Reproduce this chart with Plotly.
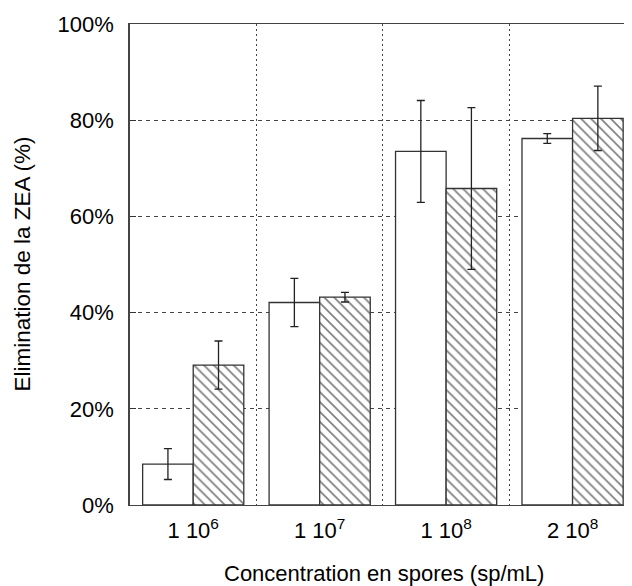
import plotly.graph_objects as go

categories = ["1 10<sup>6</sup>", "1 10<sup>7</sup>", "1 10<sup>8</sup>", "2 10<sup>8</sup>"]
x_pos = [0, 1, 2, 3]
white_vals = [8.5, 42.1, 73.5, 76.2]
white_err = [3.2, 5.0, 10.6, 1.0]
hatch_vals = [29.1, 43.2, 65.8, 80.4]
hatch_err = [5.0, 1.0, 16.8, 6.7]
y_ticks = [0, 20, 40, 60, 80, 100]
y_ticktext = ["0%", "20%", "40%", "60%", "80%", "100%"]

FONT = "Liberation Sans, Arial, sans-serif"

fig = go.Figure()
fig.add_trace(go.Bar(
    x=x_pos, y=white_vals,
    marker=dict(color="white", line=dict(color="#333333", width=1.3)),
    error_y=dict(type="data", array=white_err, color="#222222", thickness=1.3, width=4),
    showlegend=False,
))
fig.add_trace(go.Bar(
    x=x_pos, y=hatch_vals,
    marker=dict(color="white", line=dict(color="#333333", width=1.3),
                pattern=dict(shape="\\", fgcolor="black", bgcolor="white", size=7, solidity=0.24)),
    error_y=dict(type="data", array=hatch_err, color="#222222", thickness=1.3, width=4),
    showlegend=False,
))

fig.update_layout(
    width=624, height=578,
    margin=dict(l=122, r=0, t=16, b=81),
    paper_bgcolor="white", plot_bgcolor="white",
    barmode="group", bargap=0.2, bargroupgap=0,
    font=dict(family=FONT, size=22, color="black"),
    xaxis=dict(
        range=[-0.5, 3.47],
        tickvals=x_pos, ticktext=categories,
        showgrid=False, zeroline=False,
        ticks="", ticklabelstandoff=6,
        showline=True, linecolor="#444444", linewidth=1, mirror=True,
        minor=dict(tickvals=[0.5, 1.5, 2.5], showgrid=True, gridcolor="#444444",
                   griddash="2px,3px", gridwidth=1, ticks=""),
        tickfont=dict(size=22),
    ),
    yaxis=dict(
        range=[0, 100],
        tickvals=y_ticks, ticktext=y_ticktext,
        showgrid=True, gridcolor="#444444", griddash="4px,4px", gridwidth=1,
        zeroline=False,
        ticks="inside", ticklen=6, tickcolor="#333333",
        ticklabelstandoff=10,
        showline=True, linecolor="#444444", linewidth=1.5,
        tickfont=dict(size=22),
    ),
    annotations=[
        dict(text="Concentration en spores (sp/mL)", xref="paper", yref="paper",
             x=(384 - 130) / 502, y=-68 / 481, xanchor="center", yanchor="middle",
             showarrow=False, font=dict(size=22)),
        dict(text="Elimination de la ZEA (%)", xref="paper", yref="paper",
             x=-108 / 502, y=0.5, xanchor="center", yanchor="middle", textangle=-90,
             showarrow=False, font=dict(size=22.5)),
    ],
)

fig.write_html("out.html")
